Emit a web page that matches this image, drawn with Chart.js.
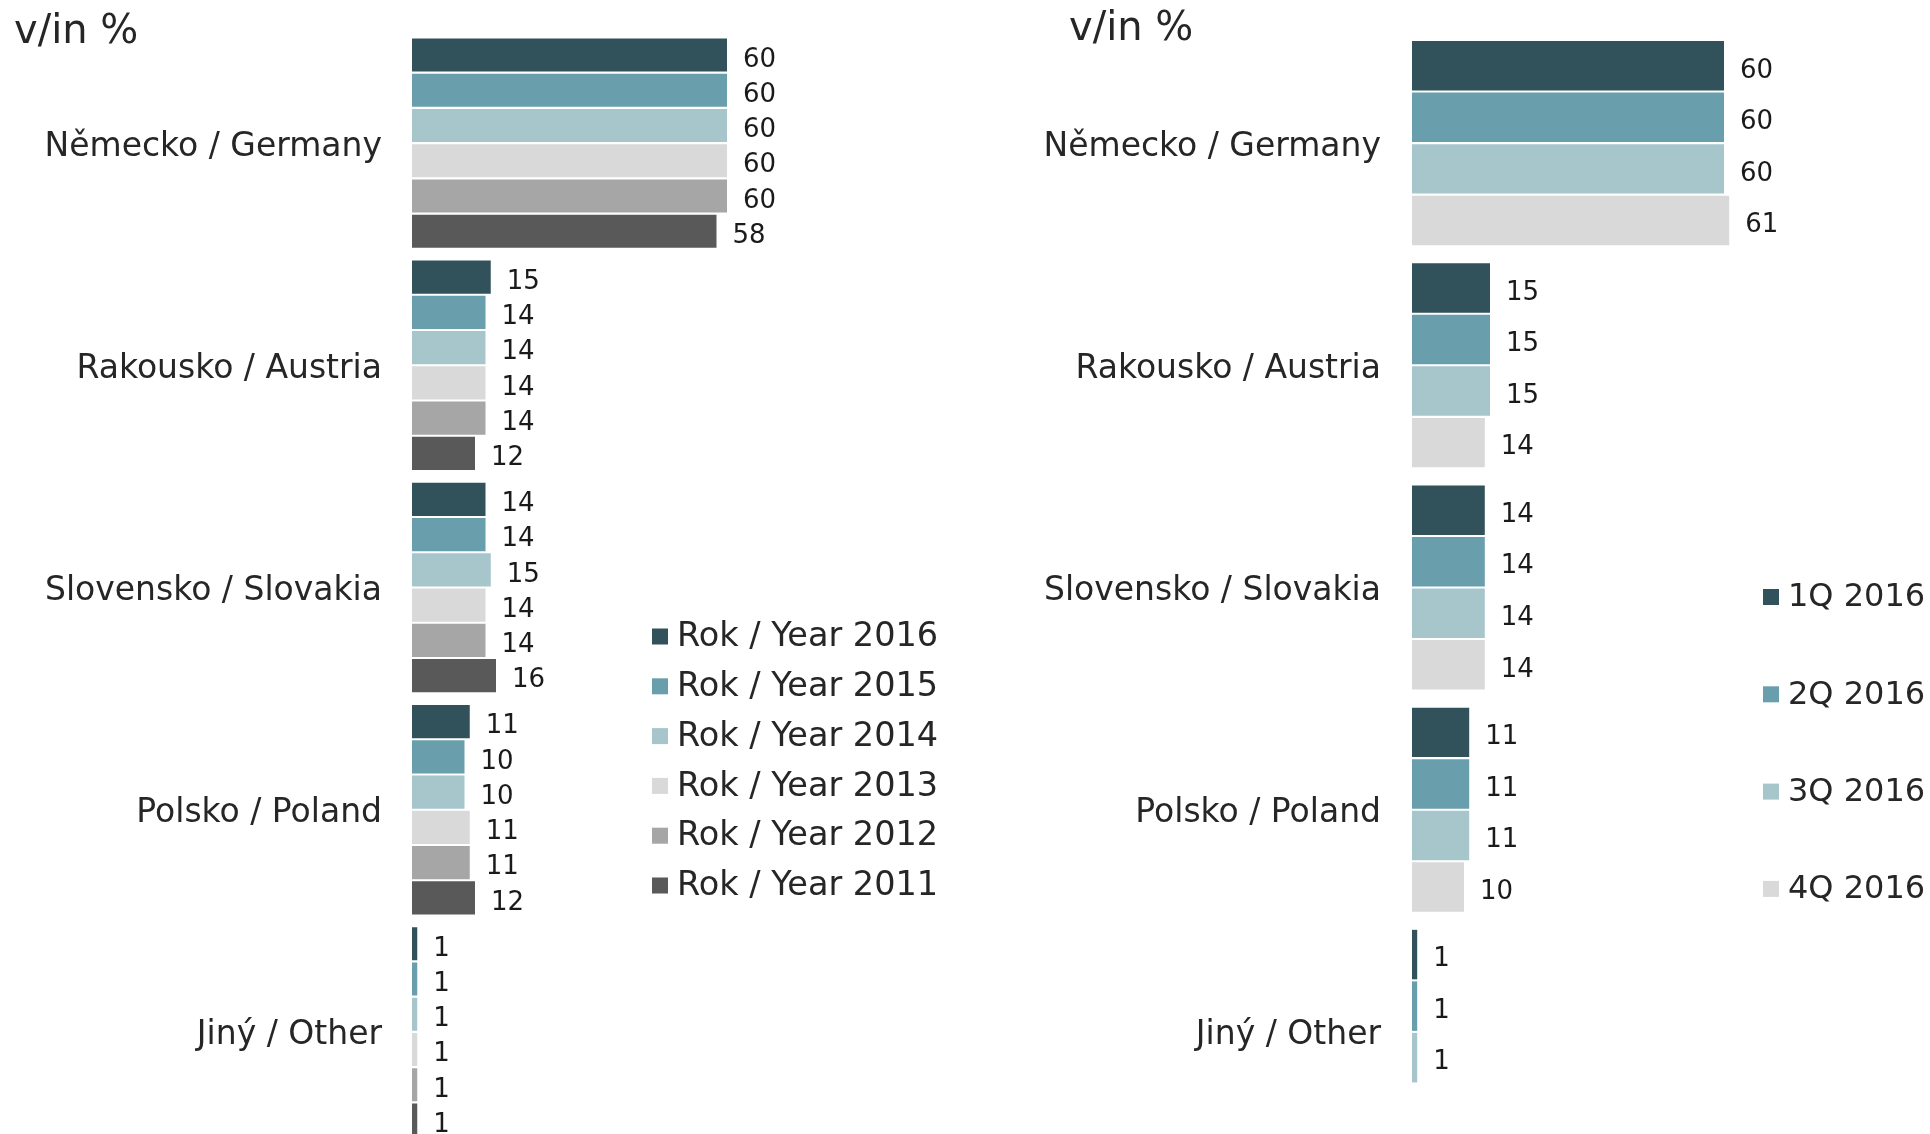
<!DOCTYPE html>
<html>
<head>
<meta charset="utf-8">
<script src="https://cdn.jsdelivr.net/npm/chart.js@4.4.1/dist/chart.umd.min.js"></script>
<style>
  html, body { margin: 0; padding: 0; background: #fff; overflow: hidden; }
  body { width: 1930px; height: 1134px; position: relative; }
  canvas { position: absolute; top: 0; }
  #yearChart { left: 0; }
  #quarterChart { left: 965px; }
</style>
</head>
<body>
<canvas id="yearChart" width="965" height="1150"></canvas>
<canvas id="quarterChart" width="965" height="1150"></canvas>
<script>
const countries = ['Německo / Germany', 'Rakousko / Austria', 'Slovensko / Slovakia', 'Polsko / Poland', 'Jiný / Other'];

// left chart: yearly shares
const yearLabels = ['Rok / Year 2016', 'Rok / Year 2015', 'Rok / Year 2014', 'Rok / Year 2013', 'Rok / Year 2012', 'Rok / Year 2011'];
const year2016 = [60, 15, 14, 11, 1];
const year2015 = [60, 14, 14, 10, 1];
const year2014 = [60, 14, 15, 10, 1];
const year2013 = [60, 14, 14, 11, 1];
const year2012 = [60, 14, 14, 11, 1];
const year2011 = [58, 12, 16, 12, 1];

// right chart: quarters of 2016 (no 4Q value for Other)
const quarterLabels = ['1Q 2016', '2Q 2016', '3Q 2016', '4Q 2016'];
const q1 = [60, 15, 14, 11, 1];
const q2 = [60, 15, 14, 11, 1];
const q3 = [60, 15, 14, 11, 1];
const q4 = [61, 14, 14, 10, null];

const yearColors = ['#31525a', '#699fad', '#a6c6cc', '#d9d9d9', '#a6a6a6', '#595959'];
const quarterColors = ['#31525a', '#699fad', '#a6c6cc', '#d9d9d9'];

const FONT = '"DejaVu Sans", Verdana, sans-serif';

// numbers to the right of each bar
const valueLabels = {
  id: 'valueLabels',
  afterDatasetsDraw(chart) {
    const ctx = chart.ctx;
    ctx.save();
    ctx.font = '26px ' + FONT;
    ctx.fillStyle = '#1a1a1a';
    ctx.textAlign = 'left';
    ctx.textBaseline = 'middle';
    chart.data.datasets.forEach((ds, i) => {
      chart.getDatasetMeta(i).data.forEach((bar, j) => {
        const v = ds.data[j];
        if (v === null || v === undefined) return;
        ctx.fillText(String(v), bar.x + 16, bar.y + 5);
      });
    });
    ctx.restore();
  }
};

// unit title + floating legend
const sideDecor = {
  id: 'sideDecor',
  afterDraw(chart, args, opts) {
    const ctx = chart.ctx;
    ctx.save();
    ctx.fillStyle = '#262626';
    ctx.font = '40px ' + FONT;
    ctx.textBaseline = 'alphabetic';
    ctx.textAlign = 'left';
    ctx.fillText(opts.title, opts.titleX, opts.titleY);

    ctx.font = opts.legendSize + 'px ' + FONT;
    ctx.textBaseline = 'middle';
    chart.data.datasets.forEach((ds, i) => {
      const y = opts.legendY + i * opts.legendStep;
      ctx.fillStyle = ds.backgroundColor;
      ctx.fillRect(opts.legendX, y - 8, 16, 16);
      ctx.fillStyle = '#262626';
      ctx.fillText(ds.label, opts.legendX + 25, y + 1);
    });
    ctx.restore();
  }
};

function makeChart(canvasId, labels, series, colors, cfg) {
  return new Chart(document.getElementById(canvasId), {
    type: 'bar',
    data: {
      labels: countries,
      datasets: series.map((data, i) => ({
        label: labels[i],
        data,
        backgroundColor: colors[i],
        borderWidth: 0,
        barPercentage: cfg.barPct,
        categoryPercentage: cfg.catPct
      }))
    },
    options: {
      indexAxis: 'y',
      responsive: false,
      animation: false,
      layout: { padding: { top: 32, bottom: 7, left: 0, right: cfg.padRight } },
      plugins: {
        legend: { display: false },
        tooltip: { enabled: false },
        sideDecor: cfg.decor
      },
      scales: {
        x: { display: false, min: 0, max: 70 },
        y: {
          grid: { display: false, drawTicks: false },
          border: { display: false },
          ticks: {
            padding: cfg.tickPad,
            labelOffset: 4,
            color: '#262626',
            font: { family: FONT, size: 33 }
          },
          afterFit: scale => {
            scale.width = cfg.axisWidth;
            scale.paddingTop = 0;
            scale.paddingBottom = 0;
          }
        }
      }
    },
    plugins: [valueLabels, sideDecor]
  });
}

makeChart('yearChart', yearLabels,
  [year2016, year2015, year2014, year2013, year2012, year2011], yearColors, {
    barPct: 0.94, catPct: 0.952, padRight: 185.5, tickPad: 30, axisWidth: 412,
    decor: { title: 'v/in %', titleX: 14, titleY: 43, legendX: 652, legendY: 636.5, legendStep: 49.8, legendSize: 33.5 }
  });

makeChart('quarterChart', quarterLabels, [q1, q2, q3, q4], quarterColors, {
  barPct: 0.96, catPct: 0.928, padRight: 154, tickPad: 31, axisWidth: 447,
  decor: { title: 'v/in %', titleX: 104, titleY: 40, legendX: 798, legendY: 597, legendStep: 97.3, legendSize: 32 }
});
</script>
</body>
</html>
